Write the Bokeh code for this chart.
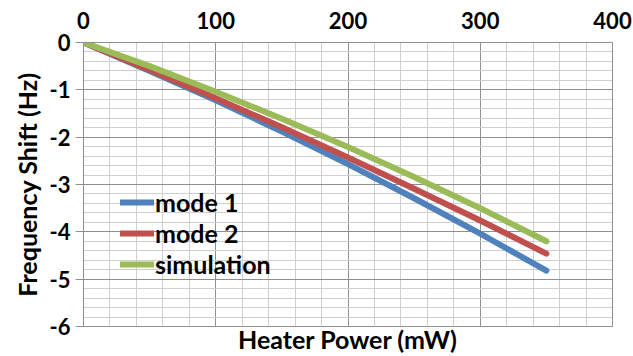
from bokeh.plotting import figure
from bokeh.models import (Range1d, LinearAxis, SingleIntervalTicker, FixedTicker,
                          Legend, LegendItem, PrintfTickFormatter)
from bokeh.embed import file_html
from bokeh.resources import INLINE

# ---- data ----
power = [0, 50, 100, 150, 200, 250, 300, 350]
mode1 = [0.0, -0.60, -1.22, -1.88, -2.57, -3.29, -4.04, -4.82]
mode2 = [0.0, -0.58, -1.18, -1.79, -2.43, -3.09, -3.76, -4.46]
simulation = [0.0, -0.50, -1.04, -1.61, -2.21, -2.84, -3.50, -4.20]
series_names = ["mode 1", "mode 2", "simulation"]
colors = ["#4F81BD", "#C0504D", "#9BBB59"]

FONT = "Lato"
FS_TICK = "22px"
FS_TEXT = "25px"
GRID_MAJOR = "#8f8f8f"
GRID_MINOR = "#cfcfcf"

p = figure(width=633, height=356, output_backend="svg", toolbar_location=None,
           x_range=Range1d(0, 400), y_range=Range1d(-6, 0),
           x_axis_location="above",
           min_border_left=83, min_border_right=21, min_border_top=42,
           min_border_bottom=30)
p.background_fill_color = "white"
p.border_fill_color = "white"
p.outline_line_color = GRID_MAJOR
p.outline_line_width = 1

# top x axis (tick labels)
xa = p.xaxis[0]
xa.ticker = SingleIntervalTicker(interval=100, num_minor_ticks=5)
xa.major_tick_out = 0
xa.major_tick_in = 0
xa.minor_tick_line_color = None
xa.axis_line_color = GRID_MAJOR
xa.major_label_standoff = 10
xa.major_label_text_font = FONT
xa.major_label_text_font_style = "bold"
xa.major_label_text_font_size = FS_TICK
xa.major_label_text_color = "black"

# left y axis
ya = p.yaxis[0]
ya.ticker = SingleIntervalTicker(interval=1, num_minor_ticks=5)
ya.formatter = PrintfTickFormatter(format="%d")
ya.major_tick_out = 8
ya.major_tick_in = 0
ya.major_tick_line_color = GRID_MAJOR
ya.minor_tick_line_color = None
ya.axis_line_color = GRID_MAJOR
ya.major_label_standoff = 5
ya.major_label_text_font = FONT
ya.major_label_text_font_style = "bold"
ya.major_label_text_font_size = FS_TICK
ya.major_label_text_color = "black"
ya.axis_label = "Frequency Shift (Hz)"
ya.axis_label_text_font = FONT
ya.axis_label_text_font_style = "bold"
ya.axis_label_text_font_size = FS_TEXT
ya.axis_label_text_color = "black"
ya.axis_label_standoff = 5

# bottom axis only for the title
xb = LinearAxis(ticker=FixedTicker(ticks=[]), axis_line_color=None,
                major_tick_line_color=None, minor_tick_line_color=None,
                major_label_text_font_size="0px",
                axis_label="Heater Power (mW)", axis_label_text_font=FONT,
                axis_label_text_font_style="bold", axis_label_text_font_size=FS_TEXT,
                axis_label_text_color="black", axis_label_standoff=-3)
p.add_layout(xb, "below")

# grids
p.xgrid.ticker = SingleIntervalTicker(interval=100, num_minor_ticks=5)
p.ygrid.ticker = SingleIntervalTicker(interval=1, num_minor_ticks=5)
for g in (p.xgrid[0], p.ygrid[0]):
    g.grid_line_color = GRID_MAJOR
    g.grid_line_width = 1
    g.minor_grid_line_color = GRID_MINOR
    g.minor_grid_line_width = 1

# lines
renderers = []
for ys, c in zip([mode1, mode2, simulation], colors):
    r = p.line(power, ys, line_color=c, line_width=6, line_cap="round",
               line_join="round")
    renderers.append(r)

legend = Legend(items=[LegendItem(label=n, renderers=[r])
                       for n, r in zip(series_names, renderers)],
                location=(37, 47), padding=0, margin=0, spacing=1,
                glyph_width=34, glyph_height=20, label_height=20,
                label_standoff=1, background_fill_alpha=0,
                border_line_color=None,
                label_text_font=FONT, label_text_font_style="bold",
                label_text_font_size=FS_TEXT, label_text_color="black")
p.add_layout(legend, "center")

open("out.html", "w").write(file_html(p, INLINE))
